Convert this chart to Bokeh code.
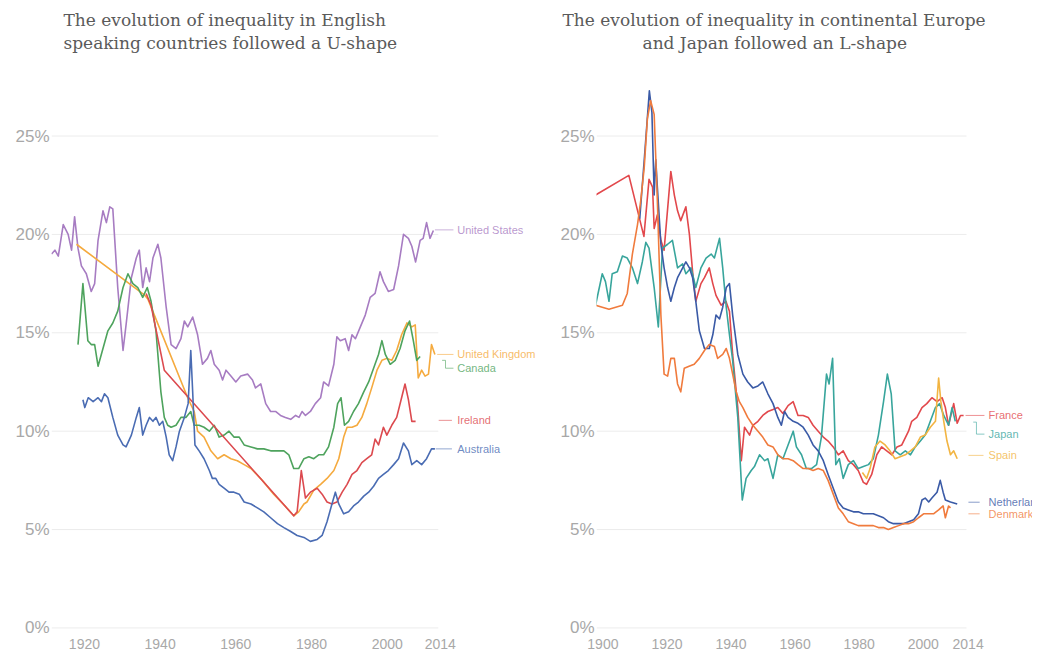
from bokeh.plotting import figure
from bokeh.models import Title, FixedTicker, PrintfTickFormatter, Range1d
from bokeh.layouts import row
from bokeh.core.properties import value
from bokeh.embed import file_html
from bokeh.resources import INLINE

# ---------------- data (year, top 1% income share in %) ----------------
united_states = [(1911.3,19.0),(1912.2,19.2),(1913.1,18.9),(1914.4,20.5),(1915.7,20.0),(1916.6,19.2),(1917.4,20.9),(1918.3,19.3),(1919.2,18.4),(1920.5,18.0),(1921.8,17.1),(1922.7,17.5),(1923.6,19.7),(1924.9,21.2),(1925.8,20.6),(1926.7,21.4),(1927.5,21.3),(1928.8,17.3),(1930.2,14.1),(1931.0,15.4),(1932.4,17.8),(1933.7,18.8),(1934.5,19.2),(1935.4,17.3),(1936.3,18.3),(1937.2,17.6),(1938.1,18.8),(1939.4,19.5),(1940.2,18.8),(1941.6,16.3),(1942.9,14.4),(1944.2,14.2),(1945.5,14.7),(1946.4,15.6),(1947.3,15.3),(1948.6,15.8),(1949.9,14.9),(1951.2,13.4),(1952.5,13.7),(1953.4,14.1),(1954.3,13.4),(1955.6,13.1),(1956.5,12.6),(1957.4,13.1),(1958.7,12.8),(1960.0,12.5),(1961.3,12.8),(1963.1,12.9),(1964.4,12.6),(1965.2,12.2),(1966.6,12.4),(1967.9,11.4),(1969.2,11.0),(1970.5,11.0),(1971.8,10.8),(1973.1,10.7),(1974.5,10.6),(1975.8,10.8),(1976.7,10.7),(1977.5,11.0),(1978.4,10.8),(1979.7,11.0),(1981.0,11.4),(1982.4,11.7),(1983.2,12.5),(1984.5,12.3),(1985.9,13.4),(1986.7,14.8),(1987.6,14.6),(1988.9,14.7),(1989.8,14.1),(1990.7,14.9),(1991.6,14.7),(1992.9,15.3),(1994.2,15.9),(1995.5,16.8),(1996.8,17.0),(1998.1,18.1),(1999.0,17.6),(2000.3,17.1),(2001.7,17.2),(2003.0,18.4),(2004.3,20.0),(2005.6,19.8),(2006.5,19.4),(2007.5,18.6),(2008.7,19.7),(2009.5,19.8),(2010.4,20.6),(2011.3,19.8),(2012.2,20.2)]

united_kingdom = [(1917.9,19.5),(1936.0,16.9),(1936.8,16.7),(1947.5,11.6),(1949.0,11.0),(1949.9,10.0),(1951.6,9.7),(1953.4,9.0),(1955.2,8.6),(1956.9,8.8),(1958.7,8.6),(1960.4,8.5),(1962.2,8.3),(1964.0,8.1),(1967.0,7.5),(1970.0,6.8),(1973.0,6.2),(1975.3,5.7),(1976.6,5.9),(1978.0,6.3),(1978.8,6.4),(1980.6,7.0),(1982.4,7.3),(1984.1,7.6),(1985.9,8.0),(1987.2,8.6),(1988.5,9.7),(1989.4,10.2),(1990.7,10.2),(1992.0,10.3),(1993.3,10.7),(1994.6,11.4),(1995.9,12.2),(1997.3,13.1),(1998.6,13.6),(1999.9,13.7),(2001.2,13.6),(2002.5,14.1),(2003.8,14.9),(2005.2,15.5),(2006.5,15.3),(2007.4,15.4),(2008.2,12.7),(2009.1,13.1),(2010.0,12.8),(2010.9,12.9),(2011.7,14.4),(2012.6,13.9)]

canada = [(1918.3,14.4),(1919.6,17.5),(1920.9,14.6),(1921.8,14.4),(1922.7,14.4),(1923.6,13.3),(1924.9,14.2),(1926.2,15.1),(1927.5,15.5),(1928.8,16.1),(1930.2,17.3),(1931.5,18.0),(1932.8,17.5),(1934.1,17.3),(1935.4,16.8),(1936.6,17.3),(1937.6,16.6),(1938.9,15.1),(1940.2,12.0),(1941.1,10.7),(1942.0,10.3),(1942.9,10.2),(1944.2,10.3),(1945.5,10.7),(1946.8,10.7),(1948.1,11.0),(1949.0,10.3),(1950.3,10.3),(1951.6,10.2),(1953.0,10.0),(1954.3,10.3),(1955.6,9.7),(1956.9,9.8),(1958.2,10.0),(1959.5,9.7),(1960.9,9.7),(1962.2,9.3),(1964.0,9.2),(1965.7,9.1),(1967.4,9.1),(1969.2,9.0),(1971.0,9.0),(1972.7,9.0),(1974.0,8.8),(1975.3,8.1),(1976.6,8.1),(1978.0,8.6),(1979.3,8.7),(1980.6,8.6),(1981.9,8.8),(1983.2,8.8),(1984.5,9.2),(1985.9,10.2),(1986.9,11.4),(1987.8,11.7),(1988.7,10.3),(1989.8,10.5),(1991.1,11.0),(1992.4,11.4),(1993.8,12.0),(1995.1,12.5),(1996.4,13.2),(1997.7,13.9),(1998.6,14.6),(1999.5,13.9),(2000.8,13.4),(2002.1,13.6),(2003.4,14.2),(2004.7,15.1),(2005.9,15.6),(2006.9,14.6),(2007.8,13.6),(2008.7,13.8)]

ireland = [(1936.3,17.0),(1937.6,16.4),(1941.1,13.1),(1975.3,5.7),(1976.2,5.9),(1977.3,8.0),(1978.4,6.6),(1979.7,6.9),(1981.5,7.1),(1982.8,6.8),(1984.1,6.4),(1985.4,6.3),(1986.7,6.4),(1988.1,6.9),(1989.4,7.3),(1990.7,7.8),(1992.0,8.0),(1993.3,8.4),(1994.6,8.6),(1995.9,8.8),(1996.8,9.6),(1997.7,9.3),(1999.0,10.2),(1999.9,9.8),(2001.2,10.3),(2002.5,10.7),(2003.8,11.7),(2004.7,12.4),(2005.6,11.6),(2006.5,10.5),(2007.5,10.5)]

australia = [(1919.6,11.6),(1920.1,11.2),(1921.0,11.7),(1922.3,11.5),(1923.6,11.7),(1924.5,11.5),(1925.3,11.9),(1926.2,11.7),(1927.5,10.7),(1928.8,9.8),(1930.2,9.3),(1931.0,9.2),(1932.4,9.8),(1933.7,10.7),(1934.5,11.2),(1935.4,9.8),(1936.3,10.3),(1937.2,10.7),(1938.1,10.5),(1938.9,10.7),(1939.8,10.3),(1940.7,10.5),(1941.6,9.7),(1942.4,8.8),(1943.3,8.5),(1944.2,9.2),(1945.1,10.0),(1946.4,10.7),(1947.4,11.4),(1948.1,14.1),(1948.6,12.0),(1949.2,9.3),(1950.3,9.0),(1951.6,8.6),(1953.0,8.0),(1953.8,7.6),(1954.7,7.6),(1955.6,7.3),(1956.9,7.1),(1958.2,6.9),(1959.5,6.9),(1960.9,6.8),(1962.2,6.4),(1964.0,6.3),(1965.7,6.1),(1967.4,5.9),(1969.2,5.6),(1971.0,5.3),(1972.7,5.1),(1974.5,4.9),(1976.2,4.7),(1978.0,4.6),(1979.7,4.4),(1981.5,4.5),(1982.8,4.7),(1984.1,5.4),(1985.4,6.3),(1986.3,6.9),(1987.2,6.3),(1988.5,5.8),(1989.8,5.9),(1991.1,6.2),(1992.4,6.4),(1993.8,6.7),(1995.1,6.9),(1996.4,7.2),(1997.7,7.6),(1999.0,7.8),(2000.3,8.0),(2001.7,8.3),(2003.0,8.6),(2004.3,9.4),(2005.6,9.0),(2006.5,8.3),(2007.8,8.5),(2009.1,8.3),(2010.4,8.6),(2011.7,9.1),(2012.6,9.1)]

france = [(1897.7,22.0),(1908.1,23.0),(1912.8,19.9),(1914.4,22.8),(1915.5,22.4),(1916.0,20.3),(1917.0,21.0),(1918.1,19.7),(1919.1,19.2),(1921.2,23.2),(1922.3,22.0),(1923.3,21.2),(1924.3,20.7),(1925.9,21.4),(1927.0,20.0),(1928.0,18.1),(1929.0,16.6),(1930.6,17.5),(1931.7,17.8),(1933.2,18.3),(1934.3,17.5),(1935.3,16.9),(1936.9,16.4),(1938.4,16.6),(1939.5,16.1),(1940.5,13.9),(1942.1,11.2),(1943.2,8.5),(1944.2,10.2),(1945.8,9.8),(1946.8,10.3),(1948.4,10.5),(1949.9,10.8),(1951.5,11.0),(1953.1,11.1),(1954.6,11.2),(1956.2,10.9),(1957.8,11.3),(1959.4,11.5),(1960.9,10.8),(1962.5,10.8),(1964.1,10.7),(1965.6,10.3),(1967.2,10.0),(1968.8,9.7),(1970.3,9.5),(1971.9,9.2),(1973.5,8.8),(1975.0,9.0),(1976.6,8.5),(1978.2,8.3),(1979.7,8.0),(1981.3,7.4),(1982.3,7.3),(1983.9,7.8),(1985.5,8.8),(1987.0,9.2),(1988.6,9.0),(1990.2,8.8),(1991.8,9.2),(1993.3,9.3),(1995.4,10.0),(1996.4,10.5),(1998.0,10.7),(1999.6,11.2),(2001.1,11.4),(2002.7,11.7),(2004.3,11.5),(2005.9,11.7),(2006.9,11.2),(2007.9,10.3),(2009.5,11.4),(2010.6,10.4),(2011.6,10.8),(2012.6,10.8)]

japan = [(1897.7,16.4),(1899.8,18.0),(1900.8,17.6),(1901.9,16.6),(1902.9,18.0),(1904.5,18.1),(1906.1,18.9),(1907.6,18.8),(1909.2,18.3),(1910.8,17.5),(1912.3,18.6),(1913.4,19.6),(1914.4,19.3),(1916.0,17.3),(1917.3,15.3),(1918.6,19.3),(1920.2,19.5),(1921.7,19.7),(1923.3,18.3),(1924.9,18.5),(1925.9,18.0),(1927.5,18.3),(1929.0,17.3),(1930.6,18.3),(1932.2,18.8),(1933.8,19.0),(1934.8,18.8),(1936.4,19.8),(1937.4,18.3),(1938.5,16.3),(1939.5,14.9),(1940.5,13.6),(1942.1,10.7),(1943.5,6.5),(1944.7,7.6),(1946.3,8.0),(1947.3,8.2),(1948.9,8.8),(1950.5,8.5),(1951.5,8.6),(1953.1,7.6),(1954.6,8.8),(1956.2,8.6),(1957.8,9.3),(1959.4,10.0),(1960.4,9.2),(1962.0,8.8),(1963.5,8.1),(1965.1,8.1),(1966.7,8.3),(1968.2,9.7),(1969.8,12.9),(1970.6,12.4),(1971.7,13.7),(1972.7,8.3),(1973.8,8.6),(1975.0,7.6),(1976.6,8.3),(1978.2,8.5),(1979.7,8.1),(1981.3,8.2),(1982.9,8.3),(1984.4,8.6),(1986.0,9.8),(1987.6,11.5),(1988.8,12.9),(1990.0,11.9),(1991.2,9.0),(1992.8,8.8),(1994.4,9.0),(1996.0,8.8),(1997.5,9.2),(1999.1,9.5),(2000.6,9.8),(2002.2,10.5),(2003.8,11.2),(2005.1,11.4),(2006.4,10.8),(2007.9,10.3),(2009.0,11.2),(2010.0,10.5)]

spain = [(1981.0,7.9),(1982.3,7.6),(1983.4,8.1),(1984.9,9.2),(1986.5,9.5),(1988.1,9.3),(1989.6,9.0),(1991.2,8.6),(1992.8,8.7),(1994.4,8.8),(1996.0,9.0),(1997.5,9.2),(1999.1,9.7),(2000.6,9.8),(2002.2,10.2),(2003.8,10.5),(2004.8,12.7),(2005.5,11.5),(2006.4,10.5),(2007.4,9.5),(2008.5,8.8),(2009.5,9.0),(2010.6,8.6)]

netherlands = [(1911.5,20.8),(1913.0,24.0),(1914.5,27.3),(1915.3,26.2),(1916.0,22.0),(1916.5,23.8),(1917.0,22.4),(1918.1,19.5),(1919.1,18.3),(1920.2,17.3),(1921.2,16.6),(1922.3,17.3),(1923.3,17.8),(1924.9,18.3),(1925.9,18.6),(1927.0,18.3),(1928.0,17.8),(1929.0,16.6),(1930.1,15.1),(1931.7,14.2),(1933.2,14.2),(1934.3,14.9),(1935.3,15.9),(1936.4,15.7),(1937.4,16.3),(1938.5,17.3),(1939.5,17.5),(1940.5,15.9),(1942.1,13.9),(1943.7,12.9),(1945.2,12.5),(1946.8,12.2),(1948.4,12.3),(1949.9,12.5),(1951.5,11.9),(1953.1,11.4),(1954.6,10.7),(1955.7,10.3),(1956.7,11.0),(1957.8,10.7),(1959.4,10.5),(1960.9,10.4),(1962.5,10.2),(1964.1,9.8),(1965.6,9.3),(1967.2,9.0),(1968.8,8.5),(1970.3,7.8),(1971.9,7.1),(1973.5,6.4),(1975.0,6.1),(1976.6,6.0),(1978.2,5.9),(1979.7,5.9),(1981.3,5.8),(1982.9,5.8),(1984.4,5.8),(1986.0,5.7),(1987.6,5.6),(1989.1,5.4),(1990.7,5.3),(1992.3,5.3),(1993.8,5.3),(1995.4,5.4),(1997.0,5.5),(1998.5,5.8),(1999.6,6.5),(2000.6,6.6),(2001.7,6.4),(2002.7,6.6),(2004.3,6.9),(2005.3,7.5),(2006.2,6.9),(2006.9,6.5),(2008.5,6.4),(2010.6,6.3)]

denmark = [(1897.7,16.4),(1899.8,16.3),(1901.9,16.2),(1904.0,16.3),(1906.1,16.4),(1907.6,17.0),(1909.2,19.0),(1910.8,20.5),(1911.8,21.7),(1912.9,23.4),(1913.9,25.9),(1914.9,26.8),(1916.0,26.1),(1917.0,21.7),(1918.1,15.9),(1919.1,12.9),(1920.2,12.8),(1921.2,13.7),(1922.3,13.7),(1923.3,12.4),(1924.3,12.0),(1925.4,13.2),(1926.9,13.3),(1928.5,13.4),(1930.1,13.7),(1931.7,14.1),(1933.2,14.4),(1934.8,14.3),(1935.8,13.7),(1937.4,13.9),(1938.5,14.2),(1939.5,13.7),(1940.5,12.9),(1941.6,12.0),(1942.6,11.5),(1943.7,11.2),(1945.2,10.7),(1946.8,10.3),(1948.4,10.0),(1949.9,9.7),(1951.5,9.3),(1953.1,9.2),(1954.6,8.8),(1956.2,8.6),(1957.8,8.6),(1959.4,8.5),(1960.9,8.3),(1962.5,8.1),(1964.1,8.1),(1965.6,8.0),(1967.2,8.1),(1968.8,8.0),(1970.3,7.5),(1971.9,6.8),(1973.5,6.1),(1975.0,5.8),(1976.6,5.4),(1978.2,5.3),(1979.7,5.2),(1981.3,5.2),(1982.9,5.2),(1984.4,5.2),(1986.0,5.1),(1987.6,5.1),(1989.1,5.0),(1990.7,5.1),(1992.3,5.2),(1993.8,5.3),(1995.4,5.3),(1997.0,5.4),(1998.5,5.6),(2000.1,5.8),(2001.7,5.8),(2003.2,5.8),(2004.8,6.0),(2006.2,6.2),(2006.9,5.6),(2007.9,6.2),(2008.5,6.1)]

left_names = ["United States", "United Kingdom", "Canada", "Ireland", "Australia"]
right_names = ["France", "Japan", "Spain", "Netherlands", "Denmark"]
y_ticks = [0, 5, 10, 15, 20, 25]
left_x_ticks = [1920, 1940, 1960, 1980, 2000, 2014]
right_x_ticks = [1900, 1920, 1940, 1960, 1980, 2000, 2014]
left_title = ["The evolution of inequality in English", "speaking countries followed a U-shape"]
right_title = ["The evolution of inequality in continental Europe", "and Japan followed an L-shape"]

# ---------------- styling / layout ----------------
COLORS = {
    "United States": "#a77cc2", "United Kingdom": "#f5aa3e", "Canada": "#4ea35d",
    "Ireland": "#dc4a4f", "Australia": "#4a6cb3",
    "France": "#e2484c", "Japan": "#38a59c", "Spain": "#f2b441",
    "Netherlands": "#3a5aa6", "Denmark": "#f07b3d",
}
SERIES = {
    "United States": united_states, "United Kingdom": united_kingdom, "Canada": canada,
    "Ireland": ireland, "Australia": australia, "France": france, "Japan": japan,
    "Spain": spain, "Netherlands": netherlands, "Denmark": denmark,
}
Y_START, Y_END = -0.13, 28.33
GRID_END = 2013.5

# label layout: (label y, leader path xs, leader path ys)
LEFT_LABELS = {
    "United States": (20.23, [2012.6, 2017.5], [20.23, 20.23]),
    "United Kingdom": (13.9, [2013.2, 2017.5], [13.9, 13.9]),
    "Canada": (13.2, [2014.5, 2015.4, 2015.4, 2017.5], [13.6, 13.6, 13.2, 13.2]),
    "Ireland": (10.55, [2013.6, 2017.1], [10.55, 10.55]),
    "Australia": (9.1, [2012.8, 2017.1], [9.1, 9.1]),
}
LEFT_TEXT_X = 2018.5
RIGHT_LABELS = {
    "France": (10.8, [2013.2, 2019.1], [10.8, 10.8]),
    "Japan": (9.85, [2015.6, 2016.6, 2016.6, 2019.1], [10.46, 10.46, 9.85, 9.85]),
    "Spain": (8.77, [2014.1, 2018.8], [8.77, 8.77]),
    "Netherlands": (6.39, [2014.1, 2017.6], [6.39, 6.39]),
    "Denmark": (5.8, [2014.1, 2017.6], [5.8, 5.8]),
}
RIGHT_TEXT_X = 2020.4


def make_panel(width, border_left, x_start, x_end, x_ticks, title_lines, title_offsets,
               names, labels, text_x):
    p = figure(width=width, height=654, x_range=Range1d(x_start, x_end),
               y_range=Range1d(Y_START, Y_END), output_backend="svg",
               toolbar_location=None, min_border_left=border_left, min_border_right=0,
               min_border_top=70, min_border_bottom=24, outline_line_color=None,
               background_fill_color="white", border_fill_color="white")
    p.xgrid.visible = False
    p.ygrid.visible = False

    # spacer between the plot and the two-line title
    p.add_layout(Title(text=" ", text_font_size="1px", standoff=14), "above")
    # titles (second line nearest the plot)
    for (txt, off), sto in zip(reversed(list(zip(title_lines, title_offsets))), [2, 0]):
        p.add_layout(Title(text=txt, align="left", offset=off, text_font="DejaVu Serif",
                           text_font_size="17px", text_font_style="normal",
                           text_color="#5a5a5a", standoff=sto), "above")

    # grid lines ending at the last year
    p.segment(x0=[x_start] * len(y_ticks), y0=y_ticks, x1=[GRID_END] * len(y_ticks),
              y1=y_ticks, line_color="#ececec", line_width=1)

    for name in names:
        pts = SERIES[name]
        p.line([a for a, b in pts], [b for a, b in pts], line_color=COLORS[name],
               line_width=1.6, line_join="round")

    # leaders and labels
    p.multi_line(xs=[labels[n][1] for n in names], ys=[labels[n][2] for n in names],
                 line_color=[COLORS[n] for n in names], line_width=1, line_alpha=0.6)
    p.text(x=[text_x] * len(names), y=[labels[n][0] for n in names], text=names,
           text_color=[COLORS[n] for n in names], text_alpha=0.8,
           text_font=value("Liberation Sans"), text_font_size="11px",
           text_baseline="middle", text_align="left")

    p.yaxis.ticker = FixedTicker(ticks=y_ticks)
    p.yaxis.formatter = PrintfTickFormatter(format="%d%%")
    p.yaxis.axis_line_color = None
    p.yaxis.major_tick_line_color = None
    p.yaxis.minor_tick_line_color = None
    p.yaxis.major_label_standoff = -4
    p.yaxis.major_label_text_font = "Liberation Sans"
    p.yaxis.major_label_text_font_size = "17px"
    p.yaxis.major_label_text_color = "#a8a8a8"

    p.xaxis.ticker = FixedTicker(ticks=x_ticks)
    p.xaxis.axis_line_color = None
    p.xaxis.major_tick_line_color = None
    p.xaxis.minor_tick_line_color = None
    p.xaxis.major_label_standoff = 2
    p.xaxis.major_label_text_font = "Liberation Sans"
    p.xaxis.major_label_text_font_size = "14px"
    p.xaxis.major_label_text_color = "#a8a8a8"
    return p


p1 = make_panel(540, 51, 1911.3, 2040.5, left_x_ticks, left_title, [12, 12],
                left_names, LEFT_LABELS, LEFT_TEXT_X)
p2 = make_panel(492, 56, 1898.0, 2034.1, right_x_ticks, right_title, [-34, 46],
                right_names, RIGHT_LABELS, RIGHT_TEXT_X)

layout = row(p1, p2, spacing=0)
open("out.html", "w").write(file_html(layout, INLINE))
